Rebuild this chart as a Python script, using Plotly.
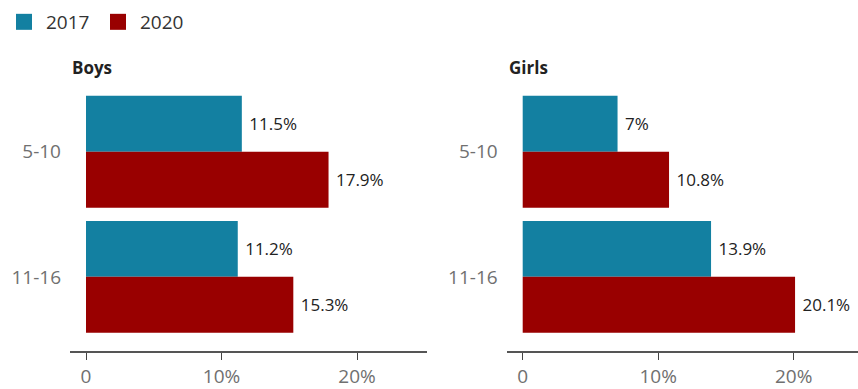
import plotly.graph_objects as go

# Share of children by age group, survey years 2017 and 2020
age_groups = ["5-10", "11-16"]
years = ["2017", "2020"]
boys_2017 = [11.5, 11.2]
boys_2020 = [17.9, 15.3]
girls_2017 = [7.0, 13.9]
girls_2020 = [10.8, 20.1]
x_ticks = [0, 10, 20]
x_tick_text = ["0", "10%", "20%"]
panel_titles = ["Boys", "Girls"]

colors = {"2017": "#1380A1", "2020": "#990000"}
FONT = "Open Sans"

W, H = 858, 389

fig = go.Figure()

panels = [
    ("x", "y", boys_2017, boys_2020),
    ("x2", "y2", girls_2017, girls_2020),
]
for xa, ya, v17, v20 in panels:
    for yr, vals in zip(years, [v17, v20]):
        fig.add_trace(go.Bar(
            x=vals, y=age_groups, orientation="h",
            xaxis=xa, yaxis=ya,
            marker=dict(color=colors[yr], line=dict(width=0)),
            text=[f"{v:g}%" for v in vals],
            texttemplate="\u00a0%{text}",
            textposition="outside",
            constraintext="none",
            cliponaxis=False,
            textfont=dict(family=FONT, size=17, color="#222222"),
            showlegend=False,
            hoverinfo="skip",
        ))

# legend entries with larger square swatches, one legend box per year
for yr, leg in zip(years, ["legend", "legend2"]):
    fig.add_trace(go.Scatter(
        x=[None], y=[None], mode="markers", name=yr,
        marker=dict(symbol="square", size=16, color=colors[yr]),
        xaxis="x", yaxis="y", legend=leg,
    ))

px_per_unit = 13.55
def x_range(left_px, right_px, zero_px):
    return [(left_px - zero_px) / px_per_unit, (right_px - zero_px) / px_per_unit]

y_top, y_bottom = 90, 354
y_dom = [(H - y_bottom) / H, (H - y_top) / H]
y_rng = [1.5 + 12 / 126, -0.5]

xaxis_common = dict(
    tickvals=x_ticks, ticktext=x_tick_text,
    showgrid=False, zeroline=False,
    showline=True, linecolor="#555555", linewidth=2,
    ticks="outside", ticklen=7, tickcolor="#444444", tickwidth=1,
    tickfont=dict(family=FONT, size=19, color="#707070"),
    fixedrange=True,
)
yaxis_common = dict(
    type="category", categoryorder="array", categoryarray=age_groups,
    range=y_rng, domain=y_dom,
    showgrid=False, zeroline=False, showline=False, ticks="",
    tickfont=dict(family=FONT, size=19, color="#707070"),
    ticklabelstandoff=8,
    fixedrange=True,
)

legend_common = dict(
    orientation="h", xanchor="left", y=1 - 3 / H, yanchor="top",
    font=dict(family=FONT, size=19, color="#333333"),
    itemwidth=34,
    itemclick=False, itemdoubleclick=False,
    bgcolor="rgba(0,0,0,0)",
)

fig.update_layout(
    width=W, height=H,
    margin=dict(l=0, r=0, t=0, b=0),
    paper_bgcolor="white", plot_bgcolor="white",
    barmode="group", bargap=0.105, bargroupgap=0,
    xaxis=dict(domain=[70 / W, 427 / W], range=x_range(70, 427, 86),
               anchor="y", **xaxis_common),
    xaxis2=dict(domain=[506.7 / W, 1.0], range=x_range(506.7, 858, 522.7),
                anchor="y2", **xaxis_common),
    yaxis=dict(anchor="x", **yaxis_common),
    yaxis2=dict(anchor="x2", **yaxis_common),
    legend=dict(x=2 / W, **legend_common),
    legend2=dict(x=96 / W, **legend_common),
    font=dict(family=FONT),
)

for title, xp in zip(panel_titles, [70, 507]):
    fig.add_annotation(
        text=f"<b>{title}</b>", xref="paper", yref="paper",
        x=xp / W, y=1 - 68 / H, xanchor="left", yanchor="middle",
        showarrow=False, font=dict(family=FONT, size=17, color="#222222"),
    )

fig.write_html("out.html")
